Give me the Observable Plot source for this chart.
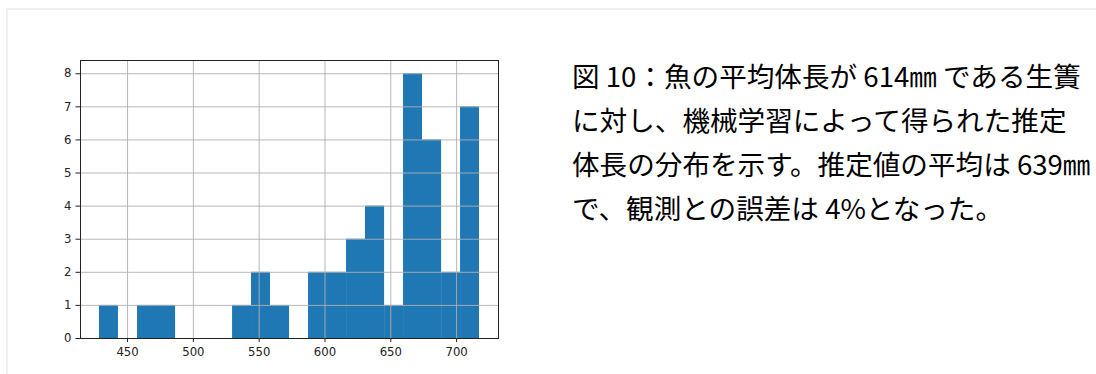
<!DOCTYPE html>
<html>
<head>
<meta charset="utf-8">
<script src="https://cdn.jsdelivr.net/npm/d3@7"></script>
<script src="https://cdn.jsdelivr.net/npm/@observablehq/plot@0.6"></script>
<style>
  html, body { margin: 0; padding: 0; background: #fff; }
  body { width: 1096px; height: 374px; position: relative; overflow: hidden; }
  .card {
    position: absolute; left: 6px; top: 8px; width: 1200px; height: 500px;
    border-left: 2px solid #efefef; border-top: 2px solid #efefef; box-sizing: border-box;
  }
  #chart { position: absolute; left: 0; top: 0; }
  .caption {
    position: absolute; left: 572px; top: 53px;
    font-family: "Noto Sans CJK JP", sans-serif; font-size: 27.6px; font-weight: 400;
    line-height: 44px; color: #000; white-space: nowrap;
  }
</style>
</head>
<body>
<div class="card"></div>
<div id="chart"></div>
<div class="caption">
  <div>図 10：魚の平均体長が 614㎜ である生簀</div>
  <div>に対し、機械学習によって得られた推定</div>
  <div>体長の分布を示す。推定値の平均は 639㎜</div>
  <div>で、観測との誤差は 4%となった。</div>
</div>
<script>
// Histogram of estimated body length (mm): 20 equal-width bins
const binEdges = [428.7, 443.1, 457.6, 472.0, 486.5, 500.9, 515.3, 529.8, 544.2, 558.6,
                  573.1, 587.5, 601.9, 616.4, 630.8, 645.3, 659.7, 674.1, 688.6, 703.0, 717.4];
const binCounts = [1, 0, 1, 1, 0, 0, 0, 1, 2, 1, 0, 2, 2, 3, 4, 1, 8, 6, 2, 7];
const xTicks = [450, 500, 550, 600, 650, 700];
const yTicks = [0, 1, 2, 3, 4, 5, 6, 7, 8];

const bins = binCounts.map((c, i) => ({x1: binEdges[i], x2: binEdges[i + 1], count: c}));

const lo = binEdges[0], hi = binEdges[binEdges.length - 1];
const pad = (hi - lo) * 0.05;
const yMax = d3.max(binCounts) * 1.05;

const font = "DejaVu Sans, sans-serif";
const chart = Plot.plot({
  width: 540,
  height: 370,
  marginLeft: 80,
  marginRight: 42,
  marginTop: 60,
  marginBottom: 32,
  style: {fontFamily: font, fontSize: "11.7px", color: "#222", background: "transparent"},
  x: {domain: [lo - pad, hi + pad]},
  y: {domain: [0, yMax]},
  marks: [
    Plot.rectY(bins.filter(d => d.count > 0), {x1: "x1", x2: "x2", y1: 0, y2: "count", fill: "#1f77b4"}),
    Plot.gridX(xTicks, {stroke: "#b0b0b0", strokeOpacity: 1, strokeWidth: 0.9}),
    Plot.gridY(yTicks, {stroke: "#b0b0b0", strokeOpacity: 1, strokeWidth: 0.9}),
    Plot.axisX(xTicks, {tickSize: 4, tickPadding: 5.5, label: null, stroke: "#222", fontSize: 11.7}),
    Plot.axisY(yTicks, {tickSize: 4.5, tickPadding: 4.5, label: null, stroke: "#222", fontSize: 11.7}),
    Plot.frame({stroke: "#222", strokeWidth: 1})
  ]
});
document.getElementById("chart").appendChild(chart);
</script>
</body>
</html>
